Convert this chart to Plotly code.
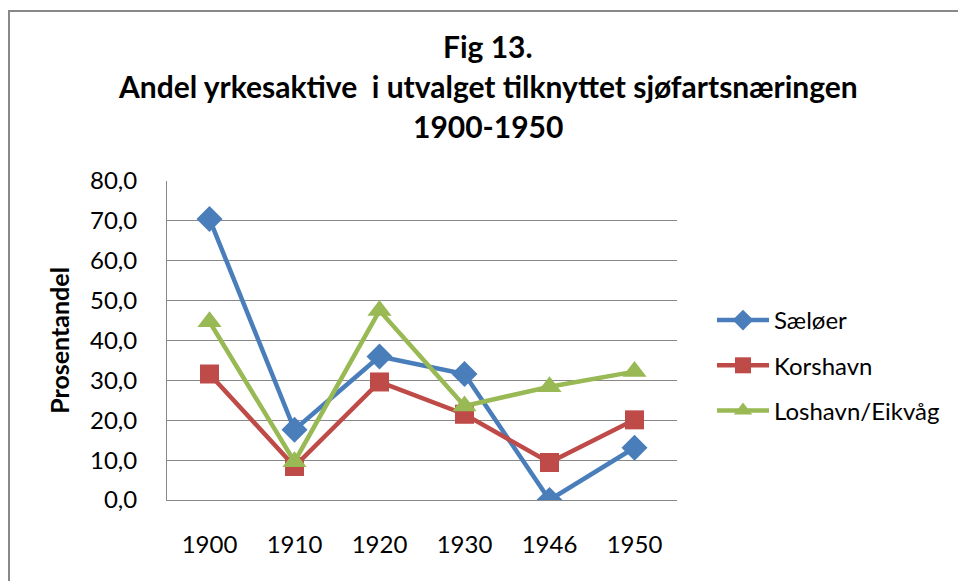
import plotly.graph_objects as go

years = ["1900", "1910", "1920", "1930", "1946", "1950"]
saeloer = [70.5, 17.6, 36.0, 31.6, 0.0, 13.1]
korshavn = [31.6, 8.4, 29.6, 21.5, 9.4, 20.1]
loshavn = [44.7, 9.6, 47.5, 23.6, 28.4, 32.2]
series_names = ["Sæløer", "Korshavn", "Loshavn/Eikvåg"]
title_lines = ["Fig 13.", "Andel yrkesaktive  i utvalget tilknyttet sjøfartsnæringen", "1900-1950"]
y_title = "Prosentandel"

FONT = "Lato"
colors = ["#4A7EBB", "#BE4B48", "#98B954"]
symbols = ["diamond", "square", "triangle-up"]
msizes = [20, 19, 21]

fig = go.Figure()
for i, (name, vals) in enumerate(zip(series_names, [saeloer, korshavn, loshavn])):
    fig.add_trace(go.Scatter(
        x=years, y=vals, name=name, mode="lines+markers",
        legendgroup=name,
        line=dict(color=colors[i], width=4.5),
        marker=dict(symbol=symbols[i], size=msizes[i], color=colors[i]),
    ))

W, H = 958, 581
L, T = 167, 181
R = W - 677
B = H - 500
ph = H - T - B
pw = W - L - R

def py(pix):
    return (H - B - pix) / ph

def px(pix):
    return (pix - L) / pw

annotations = []
for txt, yc in zip(title_lines, [46, 86, 126]):
    annotations.append(dict(text="<b>" + txt + "</b>", xref="paper", yref="paper",
                            x=px(488), y=py(yc), xanchor="center", yanchor="middle",
                            showarrow=False, font=dict(family=FONT, size=30, color="black")))

fig.update_layout(
    width=W, height=H,
    margin=dict(l=L, r=R, t=T, b=B),
    paper_bgcolor="white", plot_bgcolor="white",
    separators=",.",
    font=dict(family=FONT, size=24, color="black"),
    showlegend=True,
    legend=dict(x=px(712), y=py(298), xanchor="left", yanchor="top",
                font=dict(family=FONT, size=24, color="black"),
                itemwidth=52,
                tracegroupgap=11, bgcolor="rgba(0,0,0,0)"),
    annotations=annotations,
    shapes=[dict(type="rect", xref="paper", yref="paper",
                 x0=px(9), x1=px(1000), y0=py(640), y1=py(11),
                 line=dict(color="#888888", width=2), layer="below")],
)
fig.update_xaxes(type="category", range=[-0.5, 5.5], showgrid=False,
                 showline=True, linecolor="#888888", linewidth=1,
                 ticks="", ticklabelstandoff=23,
                 tickfont=dict(family=FONT, size=24, color="black"))
fig.update_yaxes(range=[0, 80], dtick=10, tickformat=".1f",
                 showgrid=True, gridcolor="#888888", gridwidth=1,
                 showline=True, linecolor="#888888", linewidth=1,
                 zeroline=False, ticks="", ticklabelstandoff=24,
                 tickfont=dict(family=FONT, size=24, color="black"),
                 title=dict(text="<b>" + y_title + "</b>", standoff=13,
                            font=dict(family=FONT, size=25, color="black")))

fig.write_html("out.html", config={"displayModeBar": False},
               post_script="document.body.style.margin='0';document.body.style.overflow='hidden';")
